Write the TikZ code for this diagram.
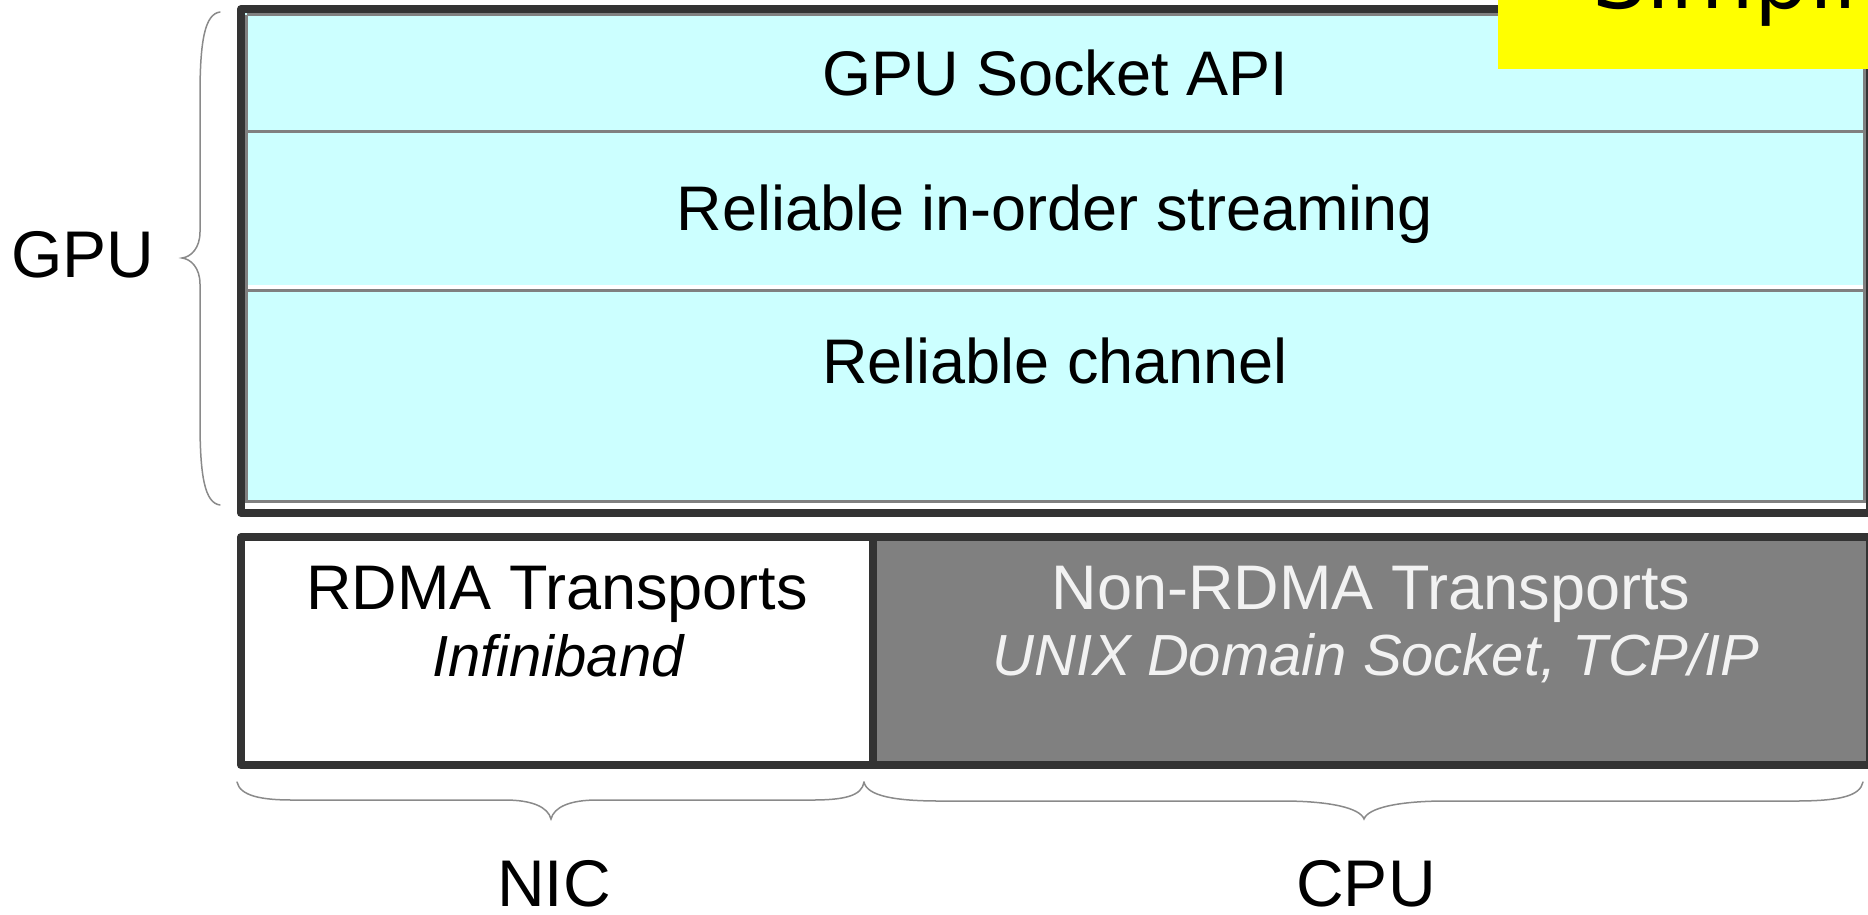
\documentclass[tikz,border=0pt]{standalone}
\usepackage{fontspec}
\setmainfont{Liberation Sans}
\newfontfamily\titlefont{DejaVu Sans}
\definecolor{framedark}{HTML}{333333}
\definecolor{cellfill}{HTML}{CCFFFF}
\definecolor{rulegrey}{HTML}{808080}
\definecolor{transgrey}{HTML}{808080}
\definecolor{lighttext}{HTML}{F2F2F2}
\definecolor{bracegrey}{HTML}{8A8A8A}
\definecolor{titleyellow}{HTML}{FFFF00}

\begin{document}
\begin{tikzpicture}[x=1pt,y=-1pt,
  frameline/.style={draw=framedark, line width=8pt, line join=round},
  sepline/.style={draw=rulegrey, line width=3.5pt},
  layertext/.style={inner sep=0pt, anchor=base, font=\fontsize{63}{70}\selectfont},
  subtext/.style={inner sep=0pt, anchor=base, font=\fontsize{58}{64}\selectfont\itshape},
  sidetext/.style={inner sep=0pt, anchor=base, font=\fontsize{66}{72}\selectfont},
  curly/.style={draw=bracegrey, line width=1.5pt, line cap=round}]
\useasboundingbox (0,0) rectangle (1868,914);
\begin{scope}
\clip (0,0) rectangle (1868,914);

% GPU-side protocol stack
\fill[white] (241,9) rectangle (1870,513);
\fill[cellfill] (245,13) rectangle (1866,502);
\fill[white] (245,285) rectangle (1866,288.5);
\draw[sepline] (246.5,14.5) -- (1865,14.5);
\draw[sepline] (246.5,14.5) -- (246.5,501.5);
\draw[sepline] (1865,14.5) -- (1865,501.5);
\draw[sepline] (245,501.5) -- (1866,501.5);
\draw[sepline] (245,131.5) -- (1866,131.5);
\draw[sepline] (245,290.5) -- (1866,290.5);
\draw[frameline] (241,9) rectangle (1870,513);

% transport layer
\fill[white] (241,537) rectangle (873,765);
\fill[transgrey] (873,537) rectangle (1870,765);
\draw[frameline] (241,537) rectangle (1870,765);
\draw[frameline] (873,537) -- (873,765);

% title banner
\fill[titleyellow] (1498,-2) rectangle (1872,69);
\node[anchor=base west, inner sep=0pt, font=\titlefont\fontsize{86}{90}\selectfont] (title) at (1592,8) {Simpli};

% layer labels
\node[layertext] (api) at (1055,95) {GPU Socket API};
\node[layertext] (stream) at (1055,230) {Reliable in-order streaming};
\node[layertext] (chan) at (1055,383) {Reliable channel};
\node[layertext] (rdma) at (557,609) {RDMA Transports};
\node[subtext] (ib) at (558,676) {Infiniband};
\node[layertext, text=lighttext] (nonrdma) at (1371,609) {Non-RDMA Transports};
\node[subtext, text=lighttext] (unix) at (1376,675) {UNIX Domain Socket, TCP/IP};

% side labels
\node[sidetext] (gpu) at (83,277) {GPU};
\node[sidetext] (nic) at (554,906) {NIC};
\node[sidetext] (cpu) at (1366,906) {CPU};

% GPU brace
\draw[curly] (220,12) .. controls (205,14) and (200,40) .. (200,95)
  -- (200,232) .. controls (200,248) and (191,257) .. (182,258)
  .. controls (191,259) and (200,268) .. (200,284)
  -- (200,422) .. controls (200,477) and (205,503) .. (220,505);

% NIC brace
\draw[curly] (237,782) .. controls (240,796) and (262,800) .. (292,800)
  -- (505,800) .. controls (532,800) and (548,807) .. (551,819)
  .. controls (554,807) and (570,800) .. (597,800)
  -- (812,800) .. controls (844,800) and (862,796) .. (864,782);

% CPU brace
\draw[curly] (864,782) .. controls (867,796) and (895,801) .. (940,801)
  -- (1282,801) .. controls (1330,801) and (1360,808) .. (1364,819)
  .. controls (1368,808) and (1398,801) .. (1446,801)
  -- (1795,801) .. controls (1840,801) and (1860,796) .. (1863,782);
\end{scope}
\end{tikzpicture}
\end{document}
